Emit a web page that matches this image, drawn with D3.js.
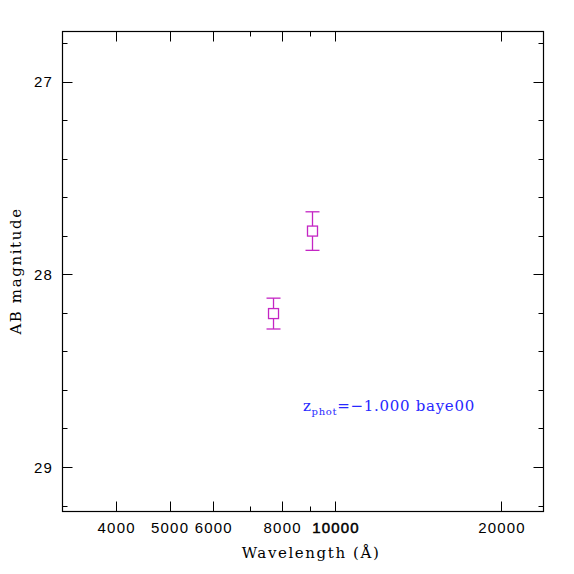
<!DOCTYPE html>
<html><head><meta charset="utf-8">
<script src="https://cdn.jsdelivr.net/npm/d3@7"></script>
<style>body{margin:0;background:#fff}svg{display:block}</style>
</head><body><svg id="c" width="574" height="574"></svg>
<script>
const wavelengths = [7720, 9085];
const magnitudes = [28.204, 27.776];
const magErrors = [0.080, 0.100];
const xMajorTicks = [4000, 5000, 6000, 8000, 10000, 20000];
const xMinorTicks = [7000, 9000];
const yMajorTicks = [27, 28, 29];
const yMinorTicks = [26.8, 27.2, 27.4, 27.6, 27.8, 28.2, 28.4, 28.6, 28.8, 29.2];
const annotation = "=\u22121.000 baye00";

const svg = d3.select("#c");
const L = 62.5, R = 543.5, T = 31.5, B = 511.5;
const x = d3.scaleLog().domain([3198, 23840]).range([L, R]);
const y = d3.scaleLinear().domain([27, 29]).range([81.5, 467]);
const col = "#c425c4";
const axc = "#000";

svg.append("rect").attr("x", L).attr("y", T).attr("width", R - L).attr("height", B - T)
  .attr("fill", "none").attr("stroke", axc).attr("stroke-width", 1.2);

const g = svg.append("g").attr("stroke", axc).attr("stroke-width", 1);
xMajorTicks.forEach(v => {
  const px = Math.round(x(v)) + 0.5;
  g.append("line").attr("x1", px).attr("x2", px).attr("y1", B).attr("y2", B - 10);
  g.append("line").attr("x1", px).attr("x2", px).attr("y1", T).attr("y2", T + 10);
});
xMinorTicks.forEach(v => {
  const px = Math.round(x(v)) + 0.5;
  g.append("line").attr("x1", px).attr("x2", px).attr("y1", B).attr("y2", B - 5);
  g.append("line").attr("x1", px).attr("x2", px).attr("y1", T).attr("y2", T + 5);
});
yMajorTicks.forEach(v => {
  const py = Math.round(y(v)) + 0.5;
  g.append("line").attr("x1", L).attr("x2", L + 10).attr("y1", py).attr("y2", py);
  g.append("line").attr("x1", R).attr("x2", R - 10).attr("y1", py).attr("y2", py);
});
yMinorTicks.forEach(v => {
  const py = Math.round(y(v)) + 0.5;
  g.append("line").attr("x1", L).attr("x2", L + 5).attr("y1", py).attr("y2", py);
  g.append("line").attr("x1", R).attr("x2", R - 5).attr("y1", py).attr("y2", py);
});

const tf = "'Liberation Sans', Arial, sans-serif";
svg.append("g").selectAll("text").data(xMajorTicks).join("text")
  .attr("x", d => x(d) + 0.6).attr("y", 533).attr("text-anchor", "middle")
  .attr("font-family", tf).attr("font-size", 15).attr("letter-spacing", 1.2)
  .attr("stroke", d => d === 10000 ? "#000" : "none").attr("stroke-width", 0.5)
  .text(d => d);
svg.append("g").selectAll("text").data(yMajorTicks).join("text")
  .attr("x", 43.6).attr("y", d => y(d) + 5.5).attr("text-anchor", "middle")
  .attr("font-family", tf).attr("font-size", 15).attr("letter-spacing", 1.2)
  .text(d => d);

const sf = "'DejaVu Serif', 'Liberation Serif', serif";
svg.append("text").attr("x", 311).attr("y", 558).attr("text-anchor", "middle")
  .attr("font-family", sf).attr("font-size", 15).attr("letter-spacing", 1.6).text("Wavelength (\u00C5)");
svg.append("text").attr("transform", "translate(21,271) rotate(-90)").attr("text-anchor", "middle")
  .attr("font-family", sf).attr("font-size", 15).attr("letter-spacing", 1.6).text("AB magnitude");

const t = svg.append("text").attr("x", 303).attr("y", 411).attr("fill", "#2828ff")
  .attr("font-family", sf).attr("font-size", 15).attr("letter-spacing", 0.7);
t.append("tspan").text("z");
t.append("tspan").attr("font-size", 10).attr("dy", 4).text("phot");
t.append("tspan").attr("dy", -4).text(annotation);

const pts = svg.append("g").attr("stroke", col).attr("stroke-width", 1.3).attr("fill", "none");
wavelengths.forEach((w, i) => {
  const px = x(w), py = y(magnitudes[i]);
  const y1 = y(magnitudes[i] - magErrors[i]), y2 = y(magnitudes[i] + magErrors[i]);
  pts.append("line").attr("x1", px).attr("x2", px).attr("y1", y1).attr("y2", py - 5);
  pts.append("line").attr("x1", px).attr("x2", px).attr("y1", py + 5).attr("y2", y2);
  pts.append("line").attr("x1", px - 7).attr("x2", px + 7).attr("y1", y1).attr("y2", y1);
  pts.append("line").attr("x1", px - 7).attr("x2", px + 7).attr("y1", y2).attr("y2", y2);
  pts.append("rect").attr("x", px - 5).attr("y", py - 5).attr("width", 10).attr("height", 10);
});
</script></body></html>
